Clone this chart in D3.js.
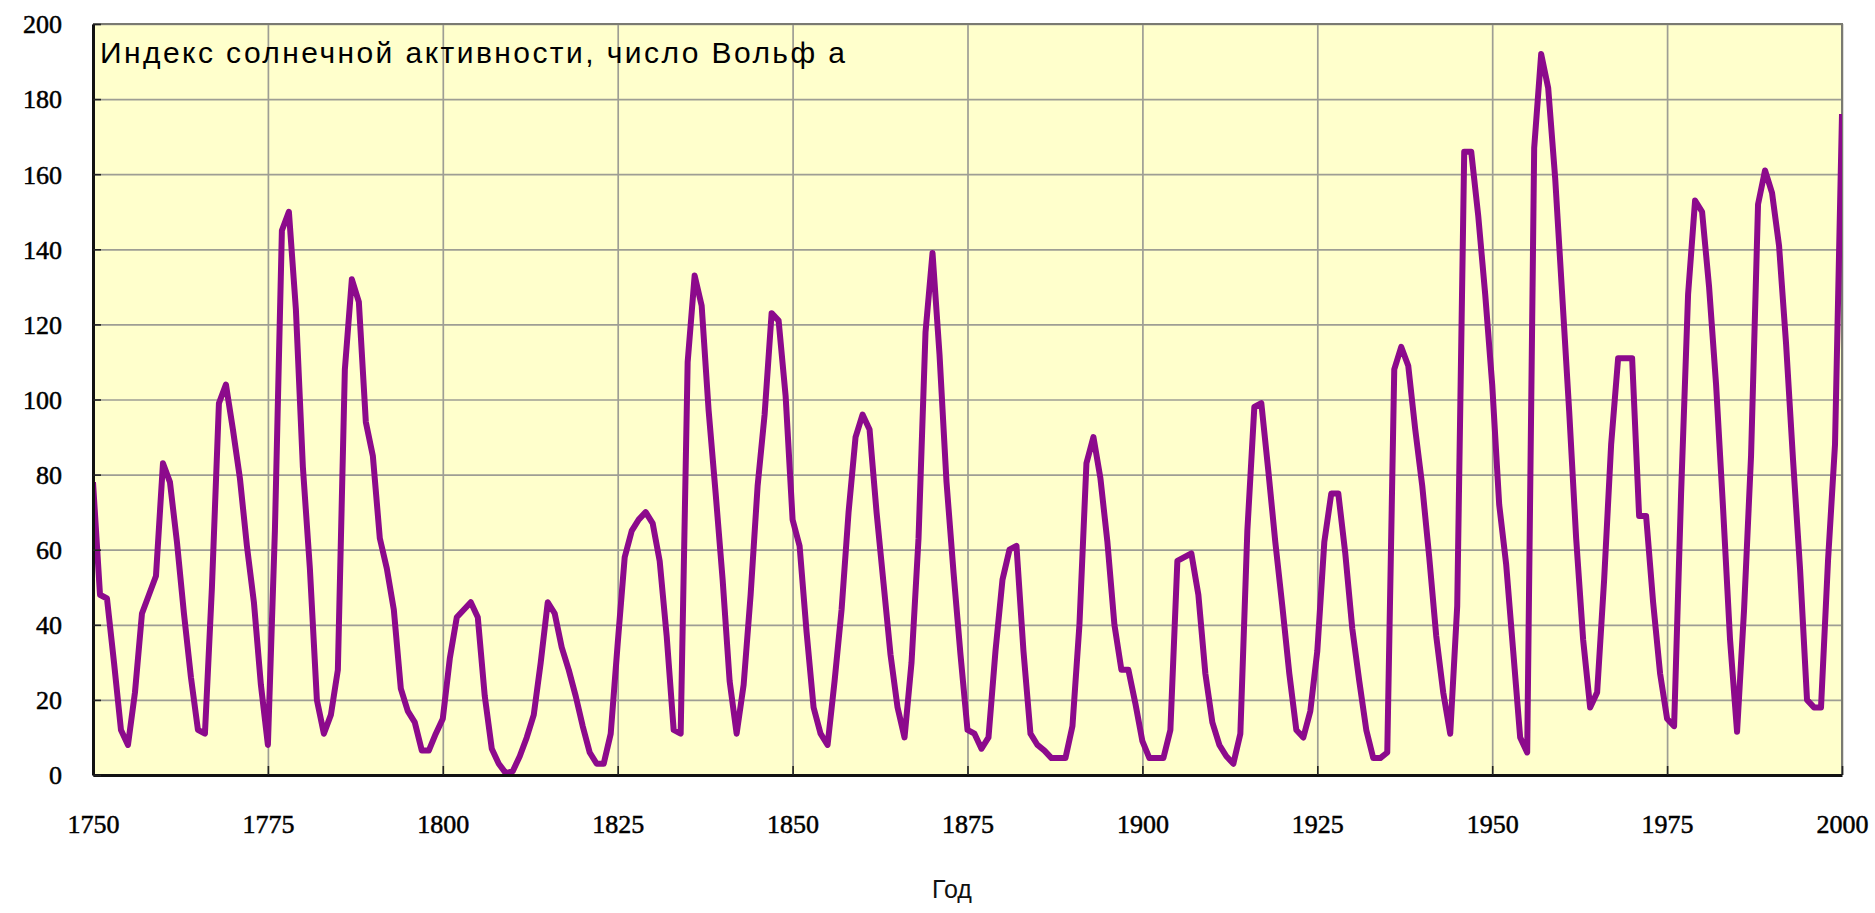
<!DOCTYPE html>
<html>
<head>
<meta charset="utf-8">
<script src="https://cdn.jsdelivr.net/npm/d3@7/dist/d3.min.js"></script>
<style>
  html, body { margin: 0; padding: 0; background: #ffffff; }
  svg { display: block; }
</style>
</head>
<body>
<svg id="chart" width="1875" height="913"></svg>
<script>
// ---- DATA ----
const title = "Индекс солнечной активности, число Вольф а";
const xTitle = "Год";
const startYear = 1750;
const xTicks = [1750, 1775, 1800, 1825, 1850, 1875, 1900, 1925, 1950, 1975, 2000];
const yTicks = [0, 20, 40, 60, 80, 100, 120, 140, 160, 180, 200];

// yearly Wolf number, 1750..1799
const wolf1750 = [78, 48, 47, 30, 12, 8, 22, 43, 48, 53,
                  83, 78, 62, 43, 26, 12, 11, 50, 99, 104,
                  92, 79, 61, 46, 24, 8, 65, 145, 150, 124,
                  82, 55, 20, 11, 16, 28, 108, 132, 126, 94,
                  85, 63, 55, 44, 23, 17, 14, 6.5, 6.5, 11];
// 1800..1849
const wolf1800 = [15, 31, 42, 44, 46, 42, 21, 7, 3, 0.5,
                  1, 5, 10, 16, 30, 46, 43, 34, 28, 21,
                  13, 6, 3, 3, 11, 35, 58, 65, 68, 70,
                  67, 57, 37, 12, 11, 110, 133, 125, 97, 75,
                  52, 25, 11, 24, 48, 77, 96, 123, 121, 101];
// 1850..1899
const wolf1850 = [68, 61, 38, 18, 11, 8, 25, 44, 70, 90,
                  96, 92, 70, 51, 32, 18, 10, 30, 63, 118,
                  139, 112, 78, 54, 32, 12, 11, 7, 10, 33,
                  52, 60, 61, 33, 11, 8, 6.5, 4.5, 4.5, 4.5,
                  13, 40, 83, 90, 79, 62, 40, 28, 28, 19];
// 1900..1949
const wolf1900 = [9, 4.5, 4.5, 4.5, 12, 57, 58, 59, 48, 27,
                  14, 8, 5, 3, 11, 65, 98, 99, 81, 62,
                  45, 27, 12, 10, 17, 33, 62, 75, 75, 59,
                  39, 25, 12, 4.5, 4.5, 6, 108, 114, 109, 92,
                  77, 58, 37, 22, 11, 45, 166, 166, 149, 128];
// 1950..2000
const wolf1950 = [104, 72, 56, 33, 10, 6, 167, 192, 183, 159,
                  128, 97, 63, 36, 18, 22, 52, 88, 111, 111,
                  111, 69, 69, 46, 27, 15, 13, 75, 128, 153,
                  150, 130, 104, 71, 36, 11.5, 44, 85, 152, 161,
                  155, 141, 115, 84, 55, 20, 18, 18, 57, 88,
                  176];

// ---- BUILD ----
const values = [].concat(wolf1750, wolf1800, wolf1850, wolf1900, wolf1950);
const series = values.map((v, i) => ({ year: startYear + i, value: v }));

const svg = d3.select("#chart");
const pL = 93, pR = 1842, pT = 24, pB = 775;

const x = d3.scaleLinear().domain([1750, 2000]).range([pL, pR]);
const y = d3.scaleLinear().domain([0, 200]).range([pB, pT]);

// plot background
svg.append("rect")
  .attr("x", pL).attr("y", pT)
  .attr("width", pR - pL).attr("height", pB - pT)
  .attr("fill", "#ffffcc");

// grid lines
svg.append("g")
  .attr("transform", `translate(0,${pB})`)
  .call(d3.axisBottom(x).tickValues(xTicks).tickSize(-(pB - pT)).tickFormat(""))
  .call(g => g.select(".domain").remove())
  .call(g => g.selectAll("line").attr("stroke", "#9e9e94").attr("stroke-width", 1.7));

svg.append("g")
  .attr("transform", `translate(${pL},0)`)
  .call(d3.axisLeft(y).tickValues(yTicks).tickSize(-(pR - pL)).tickFormat(""))
  .call(g => g.select(".domain").remove())
  .call(g => g.selectAll("line").attr("stroke", "#9e9e94").attr("stroke-width", 1.7));

// top & right frame
svg.append("path")
  .attr("d", `M${pL},${pT}H${pR}V${pB}`)
  .attr("fill", "none").attr("stroke", "#7a7a72").attr("stroke-width", 2);

// data line
svg.append("clipPath").attr("id", "plotclip")
  .append("rect").attr("x", pL).attr("y", pT - 3)
  .attr("width", pR - pL).attr("height", pB - pT + 3);

const line = d3.line()
  .x(d => x(d.year))
  .y(d => y(d.value))
  .curve(d3.curveLinear);

svg.append("path")
  .datum(series)
  .attr("clip-path", "url(#plotclip)")
  .attr("fill", "none")
  .attr("stroke", "#8c0a8c")
  .attr("stroke-width", 6)
  .attr("stroke-linejoin", "round")
  .attr("d", line);

// axes (ticks inside)
const xAxis = svg.append("g")
  .attr("transform", `translate(0,${pB})`)
  .call(d3.axisBottom(x).tickValues(xTicks).tickSizeInner(-9).tickSizeOuter(0).tickFormat(d3.format("d")));
xAxis.select(".domain").attr("stroke", "#111").attr("stroke-width", 3);
xAxis.selectAll(".tick line").attr("stroke", "#222").attr("stroke-width", 1.6);
xAxis.selectAll(".tick text")
  .attr("y", 58).attr("dy", 0)
  .attr("fill", "#000")
  .attr("stroke", "#000").attr("stroke-width", 0.5)
  .style("font-family", "'Liberation Serif', 'DejaVu Serif', serif")
  .style("font-size", "26px");

const yAxis = svg.append("g")
  .attr("transform", `translate(${pL},0)`)
  .call(d3.axisLeft(y).tickValues(yTicks).tickSizeInner(-8).tickSizeOuter(0));
yAxis.select(".domain").attr("stroke", "#111").attr("stroke-width", 3);
yAxis.selectAll(".tick line").attr("stroke", "#222").attr("stroke-width", 1.6);
yAxis.selectAll(".tick text")
  .attr("x", -31).attr("dy", "0.34em")
  .attr("fill", "#000")
  .attr("stroke", "#000").attr("stroke-width", 0.5)
  .style("font-family", "'Liberation Serif', 'DejaVu Serif', serif")
  .style("font-size", "26px");

// title inside plot
svg.append("text")
  .attr("x", 100).attr("y", 63)
  .attr("textLength", 745).attr("lengthAdjust", "spacing")
  .attr("fill", "#000")
  .style("font-family", "'Liberation Sans', Arial, sans-serif")
  .style("font-size", "30px")
  .text(title);

// x axis title
svg.append("text")
  .attr("x", 952).attr("y", 898)
  .attr("text-anchor", "middle")
  .attr("fill", "#111")
  .style("font-family", "'Liberation Sans', Arial, sans-serif")
  .style("font-size", "25px")
  .text(xTitle);
</script>
</body>
</html>
